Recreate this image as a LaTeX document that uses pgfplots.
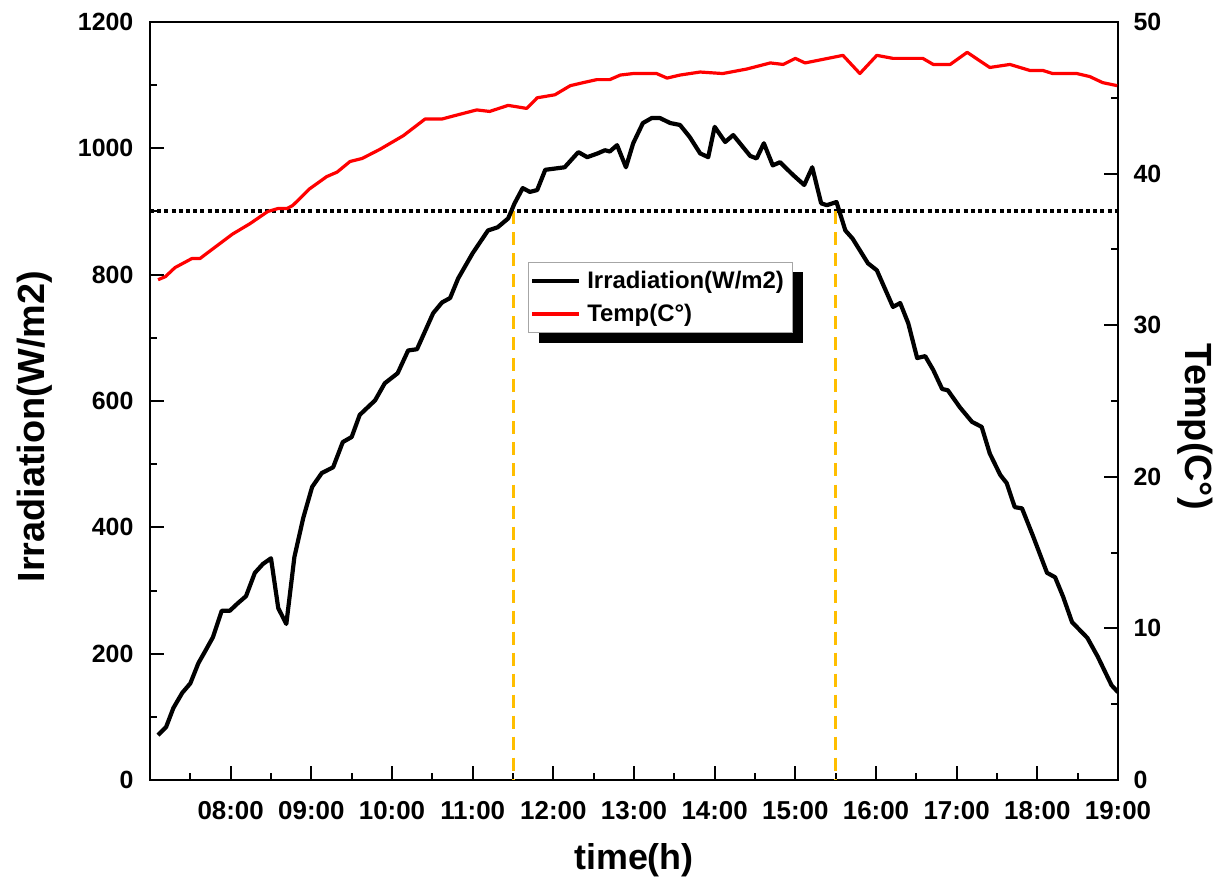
\documentclass[border=0pt]{standalone}
\usepackage{fontspec}
\setmainfont{Liberation Sans}
\usepackage{pgfplots}
\pgfplotsset{compat=1.18}
\usetikzlibrary{backgrounds}
\definecolor{dashorange}{RGB}{255,190,0}

\pgfplotsset{
  common/.style={
    scale only axis, width=484bp, height=379bp,
    xmin=7, xmax=19,
    tick align=inside,
    major tick length=7bp, minor tick length=3.5bp,
    every tick/.style={black, line width=1bp},
    axis line style={black, line width=1bp},
    ticklabel style={font=\fontsize{12.5}{14}\selectfont\bfseries},
    /pgf/number format/assume math mode=true,
    /pgf/number format/1000 sep={},
    scaled y ticks=false,
    label style={font=\fontsize{18}{20}\selectfont\bfseries, inner sep=0pt},
    ylabel style={font=\fontsize{19}{21}\selectfont\bfseries},
  }
}

\begin{document}
\begin{tikzpicture}
\begin{axis}[
  common,
  name=main,
  ymin=0, ymax=1200,
  xtick={8,9,10,11,12,13,14,15,16,17,18,19},
  xticklabels={08:00,09:00,10:00,11:00,12:00,13:00,14:00,15:00,16:00,17:00,18:00,19:00},
  minor xtick={7.5,8.5,...,18.5},
  ytick={0,200,...,1200}, minor ytick={100,300,...,1100},
  xtick pos=bottom, ytick pos=left,
  xticklabel style={yshift=-7bp, font=\fontsize{13}{15}\selectfont\bfseries},
  yticklabel style={xshift=-4.8bp},
  xlabel={time(h)}, ylabel={Irradiation(W/m2)},
  xlabel style={at={(axis description cs:0.5,-0.1055)}, anchor=center},
  ylabel style={at={(axis description cs:-0.1188,0.466)}, anchor=center},
]
\addplot[black, line width=2bp, dash pattern=on 2bp off 1.6bp] coordinates {(7,900)(19,900)};
\addplot[dashorange, line width=1.5bp, dash pattern=on 6.5bp off 4bp] coordinates {(11.5,900)(11.5,0)};
\addplot[dashorange, line width=1.5bp, dash pattern=on 6.5bp off 4bp] coordinates {(15.5,900)(15.5,0)};
\addplot[black, line width=2.1bp, line join=round] coordinates {
(7.10,71)(7.20,84)(7.29,114)(7.40,138)(7.50,153)(7.60,185)(7.68,203)(7.78,226)(7.89,268)(7.99,268)
(8.09,280)(8.19,291)(8.30,328)(8.40,342)(8.50,351)(8.59,272)(8.69,247)(8.79,353)(8.90,415)(9.01,464)
(9.13,486)(9.27,495)(9.39,535)(9.50,543)(9.60,578)(9.79,601)(9.91,628)(10.07,644)(10.20,680)(10.31,682)
(10.51,739)(10.62,756)(10.72,763)(10.82,794)(11.00,834)(11.19,870)(11.31,875)(11.44,889)(11.52,913)(11.62,937)
(11.71,931)(11.80,934)(11.90,966)(12.02,968)(12.14,970)(12.31,994)(12.42,986)(12.55,992)(12.64,997)(12.70,995)
(12.79,1005)(12.90,970)(12.99,1008)(13.11,1040)(13.22,1048)(13.32,1048)(13.45,1040)(13.57,1037)(13.69,1018)(13.82,992)
(13.92,986)(14.00,1034)(14.13,1010)(14.23,1021)(14.44,988)(14.52,984)(14.61,1008)(14.72,973)(14.81,978)(14.97,958)
(15.11,942)(15.21,970)(15.32,913)(15.39,910)(15.51,915)(15.62,870)(15.71,857)(15.90,818)(16.01,807)(16.21,749)
(16.30,755)(16.40,723)(16.51,668)(16.61,671)(16.71,649)(16.82,619)(16.89,617)(17.04,590)(17.19,567)(17.31,559)
(17.41,517)(17.54,483)(17.62,470)(17.72,432)(17.81,430)(17.95,385)(18.12,328)(18.22,321)(18.32,290)(18.43,250)
(18.62,225)(18.75,195)(18.92,150)(19.00,139)
};
\end{axis}

\begin{axis}[
  common,
  ymin=0, ymax=50,
  axis x line=none, axis y line*=right,
  ytick={0,10,...,50}, minor ytick={5,15,...,45},
  yticklabel style={xshift=4.3bp},
  ylabel={Temp(C°)},
  ylabel style={at={(axis description cs:1.0795,0.466)}, anchor=center, rotate=180},
  legend cell align=left,
  legend image code/.code={\draw[#1] (0bp,0bp) -- (23.5bp,0bp);},
  legend style={name=leg, at={(axis description cs:0.390,0.683)}, anchor=north west,
    draw=gray!70, fill=white,
    font=\fontsize{12}{14}\selectfont\bfseries,
    inner xsep=1bp, inner ysep=2bp, row sep=2.5bp,
    nodes={inner xsep=3bp, inner ysep=2bp}},
]
\addplot[red, line width=1.6bp, line join=round, forget plot] coordinates {
(7.10,33.0)(7.19,33.2)(7.31,33.8)(7.52,34.4)(7.62,34.4)(7.77,35.0)(7.87,35.4)(8.02,36.0)(8.24,36.7)(8.46,37.5)
(8.59,37.7)(8.70,37.7)(8.77,37.9)(8.98,39.0)(9.19,39.8)(9.32,40.1)(9.48,40.8)(9.63,41.0)(9.85,41.6)(10.14,42.5)
(10.41,43.6)(10.62,43.6)(10.76,43.8)(11.05,44.2)(11.21,44.1)(11.44,44.5)(11.67,44.3)(11.80,45.0)(12.02,45.2)(12.21,45.8)
(12.37,46.0)(12.54,46.2)(12.70,46.2)(12.83,46.5)(12.99,46.6)(13.28,46.6)(13.41,46.3)(13.57,46.5)(13.82,46.7)(14.10,46.6)
(14.40,46.9)(14.69,47.3)(14.85,47.2)(15.00,47.6)(15.12,47.3)(15.31,47.5)(15.59,47.8)(15.80,46.6)(16.01,47.8)(16.21,47.6)
(16.58,47.6)(16.71,47.2)(16.92,47.2)(17.13,48.0)(17.41,47.0)(17.66,47.2)(17.91,46.8)(18.07,46.8)(18.19,46.6)(18.49,46.6)
(18.65,46.4)(18.81,46.0)(18.99,45.8)
};
\addlegendimage{black, line width=2bp}
\addlegendentry{Irradiation(W/m2)}
\addlegendimage{red, line width=2.2bp}
\addlegendentry{Temp(C°)}
\end{axis}
\begin{scope}[on background layer]
\fill[black] ([shift={(5.5bp,-5bp)}]leg.south west) rectangle ([shift={(5.5bp,-5bp)}]leg.north east);
\end{scope}
\path ([shift={(-75bp,-52.5bp)}]main.south west) rectangle ([shift={(49.5bp,11bp)}]main.north east);
\end{tikzpicture}
\end{document}
